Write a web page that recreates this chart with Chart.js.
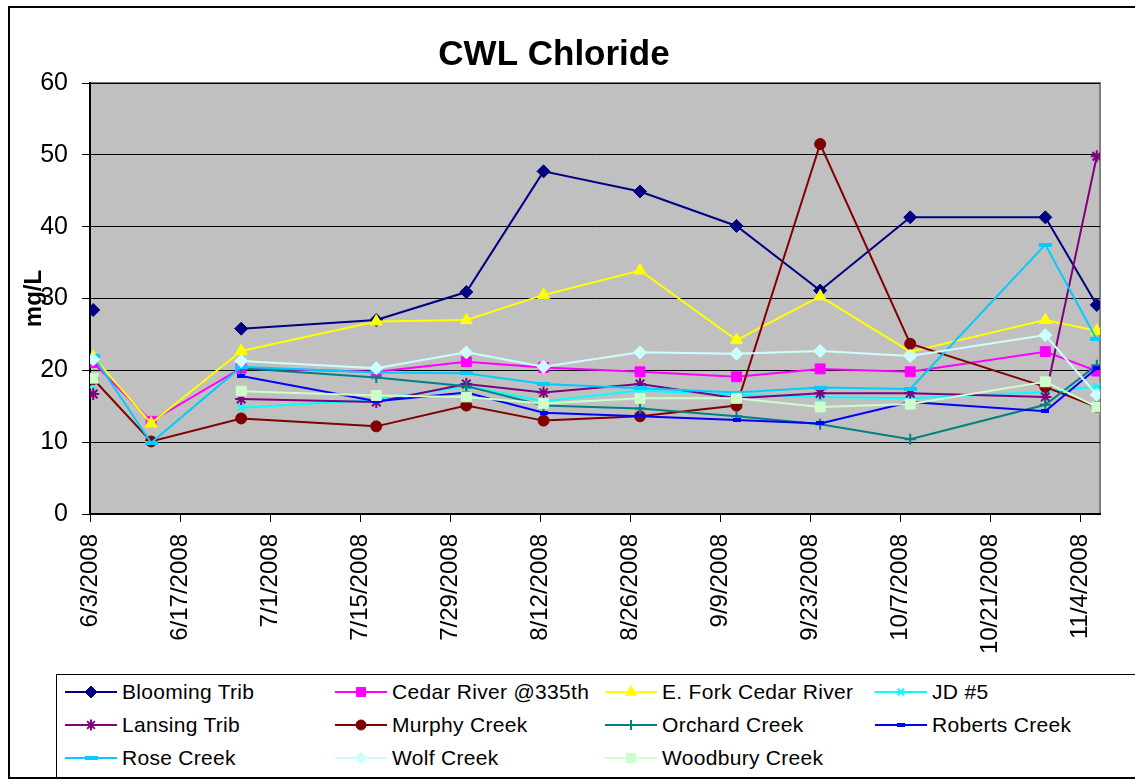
<!DOCTYPE html>
<html>
<head>
<meta charset="utf-8">
<script src="https://cdn.jsdelivr.net/npm/chart.js@4.4.1/dist/chart.umd.min.js"></script>
<style>
  body { margin: 0; background: #fff; }
  #wrap { position: relative; width: 1135px; height: 781px; overflow: hidden; font-family: "Liberation Sans", Arial, sans-serif; }
  #frame { position: absolute; left: 8px; top: 6px; width: 1140px; height: 773px; border: 2px solid #000; box-sizing: border-box; pointer-events: none; }
  #legend { position: absolute; left: 56px; top: 674px; width: 1100px; height: 104px; border: 1px solid #000; box-sizing: border-box; background: #fff; }
  .item { position: absolute; height: 24px; display: flex; align-items: center; font-size: 21px; letter-spacing: 0.3px; white-space: nowrap; color: #000; }
  .item canvas { margin-right: 5px; }
</style>
</head>
<body>
<div id="wrap">
  <canvas id="graph" width="1135" height="781"></canvas>
  <div id="frame"></div>
  <div id="legend"></div>
</div>
<script>
// sample dates, as days after 6/3/2008
var sampleDays = [0, 9, 23, 44, 58, 70, 85, 100, 113, 127, 148, 156];
var tickLabels = ["6/3/2008", "6/17/2008", "7/1/2008", "7/15/2008", "7/29/2008", "8/12/2008",
                  "8/26/2008", "9/9/2008", "9/23/2008", "10/7/2008", "10/21/2008", "11/4/2008"];

var seriesNames = ["Blooming Trib", "Cedar River @335th", "E. Fork Cedar River", "JD #5",
                   "Lansing Trib", "Murphy Creek", "Orchard Creek", "Roberts Creek",
                   "Rose Creek", "Wolf Creek", "Woodbury Creek"];

var blooming = [28.4, null, 25.8, 27.0, 30.9, 47.7, 44.9, 40.1, 31.1, 41.3, 41.3, 29.1];
var cedar    = [21.1, 12.9, 20.3, 19.8, 21.2, 20.4, 19.8, 19.1, 20.2, 19.8, 22.6, 19.9];
var eFork    = [21.9, 12.6, 22.7, 26.8, 27.0, 30.5, 33.9, 24.2, 30.3, 22.6, 27.0, 25.5];
var jd5      = [18.0, null, 14.8, 15.9, 17.8, 15.7, 17.2, 16.6, 16.3, 16.1, 17.0, 17.7];
var lansing  = [16.7, null, 16.0, 15.6, 18.1, 16.9, 18.1, 16.1, 16.8, 16.8, 16.3, 49.8];
var murphy   = [18.8, 10.1, 13.3, 12.2, 15.1, 13.0, 13.6, 15.1, 51.5, 23.7, 17.7, 14.9];
var orchard  = [null, null, 20.3, 19.0, 17.8, 15.1, 14.7, 13.6, 12.5, 10.4, 15.2, 20.7];
var roberts  = [null, null, 19.2, 15.7, 16.9, 14.1, 13.6, 13.1, 12.6, 15.6, 14.3, 20.3];
var rose     = [22.0,  9.9, 20.5, 19.7, 19.6, 18.1, 17.5, 16.9, 17.6, 17.4, 37.5, 24.3];
var wolf     = [21.5, null, 21.3, 20.3, 22.5, 20.5, 22.5, 22.3, 22.7, 22.0, 24.9, 16.6];
var woodbury = [18.9, null, 17.1, 16.5, 16.3, 15.4, 16.1, 16.1, 14.9, 15.3, 18.4, 14.9];

var seriesValues = [blooming, cedar, eFork, jd5, lansing, murphy, orchard, roberts, rose, wolf, woodbury];

// styles
var colors = ["#000080", "#FF00FF", "#FFFF00", "#00FFFF", "#800080", "#800000",
              "#008080", "#0000FF", "#00CCFF", "#CCFFFF", "#CCFFCC"];

function dash(w, h, color) {
	var c = document.createElement("canvas");
	c.width = w;
	c.height = h;
	var x = c.getContext("2d");
	x.fillStyle = color;
	x.fillRect(0, 0, w, h);
	return c;
}

var markers = ["rectRot", "rect", "triangle", "crossRot", "star", "circle", "cross",
               dash(8, 4, "#0000FF"), dash(13, 4, "#00CCFF"), "rectRot", "rect"];
var radii = [6.5, 7, 7, 5, 6, 5.5, 5.5, 5, 5, 6.5, 7];
var strokeOnly = [false, false, false, true, true, false, true, false, false, false, false];

var datasets = seriesNames.map(function (name, i) {
	return {
		label: name,
		data: sampleDays.map(function (d, j) { return { x: d, y: seriesValues[i][j] }; }),
		borderColor: colors[i],
		backgroundColor: colors[i],
		borderWidth: 2,
		pointStyle: markers[i],
		pointRadius: radii[i],
		pointHoverRadius: radii[i],
		pointBackgroundColor: colors[i],
		pointBorderColor: colors[i],
		pointBorderWidth: strokeOnly[i] ? 2 : 1,
		spanGaps: false,
		tension: 0,
		order: seriesNames.length - i
	};
});

var plotBg = {
	id: "plotBg",
	beforeDraw: function (chart) {
		var a = chart.chartArea, c = chart.ctx;
		c.save();
		c.fillStyle = "#C0C0C0";
		c.fillRect(a.left, a.top, a.right - a.left, a.bottom - a.top);
		c.strokeStyle = "#808080";
		c.lineWidth = 2;
		c.strokeRect(a.left, a.top, a.right - a.left, a.bottom - a.top);
		c.restore();
	}
};

var ctx = document.getElementById("graph");
var graph = new Chart(ctx, {
	type: "line",
	data: { datasets: datasets },
	plugins: [plotBg],
	options: {
		responsive: false,
		animation: false,
		layout: { padding: { left: 8, right: 35, top: 6, bottom: 0 } },
		plugins: {
			legend: { display: false },
			tooltip: { enabled: false },
			title: {
				display: true,
				text: "CWL Chloride",
				color: "#000",
				font: { family: "Liberation Sans", size: 35, weight: "bold" },
				padding: { top: 28, bottom: 7 }
			}
		},
		scales: {
			x: {
				type: "linear",
				min: -0.5,
				max: 156.5,
				afterBuildTicks: function (scale) {
					scale.ticks = tickLabels.map(function (t, i) { return { value: i * 14 - 0.5 }; });
				},
				afterFit: function (scale) { scale.height = 267; },
				ticks: {
					autoSkip: false,
					minRotation: 90,
					maxRotation: 90,
					padding: 12,
					color: "#000",
					font: { family: "Liberation Sans", size: 24 },
					callback: function (v, i) { return tickLabels[i]; }
				},
				grid: { drawOnChartArea: false, drawTicks: true, tickLength: 8, color: "#000", lineWidth: 1 },
				border: { display: true, color: "#000", width: 2 }
			},
			y: {
				min: 0,
				max: 60,
				afterFit: function (scale) { scale.width = 82; },
				ticks: {
					stepSize: 10,
					padding: 14,
					color: "#000",
					font: { family: "Liberation Sans", size: 25 }
				},
				grid: { color: "#000", lineWidth: 1, tickLength: 8 },
				border: { display: true, color: "#000", width: 2 },
				title: {
					display: true,
					text: "mg/L",
					color: "#000",
					font: { family: "Liberation Sans", size: 24, weight: "bold" },
					padding: { top: 12, bottom: 0 }
				}
			}
		}
	}
});

// legend, laid out in four fixed columns like the original
var legend = document.getElementById("legend");
seriesNames.forEach(function (name, i) {
	var item = document.createElement("div");
	item.className = "item";
	item.style.left = (8 + (i % 4) * 270) + "px";
	item.style.top = (5 + Math.floor(i / 4) * 33) + "px";
	var m = document.createElement("canvas");
	m.width = 52;
	m.height = 20;
	var g = m.getContext("2d");
	g.strokeStyle = colors[i];
	g.lineWidth = 2;
	g.beginPath();
	g.moveTo(0, 10);
	g.lineTo(52, 10);
	g.stroke();
	g.fillStyle = colors[i];
	g.lineWidth = strokeOnly[i] ? 2 : 1;
	if (Chart.helpers && Chart.helpers.drawPoint) {
		Chart.helpers.drawPoint(g, { pointStyle: markers[i], radius: radii[i] - 0.5, borderWidth: g.lineWidth, rotation: 0 }, 26, 10);
	}
	item.appendChild(m);
	var t = document.createElement("span");
	t.textContent = name;
	item.appendChild(t);
	legend.appendChild(item);
});
</script>
</body>
</html>
